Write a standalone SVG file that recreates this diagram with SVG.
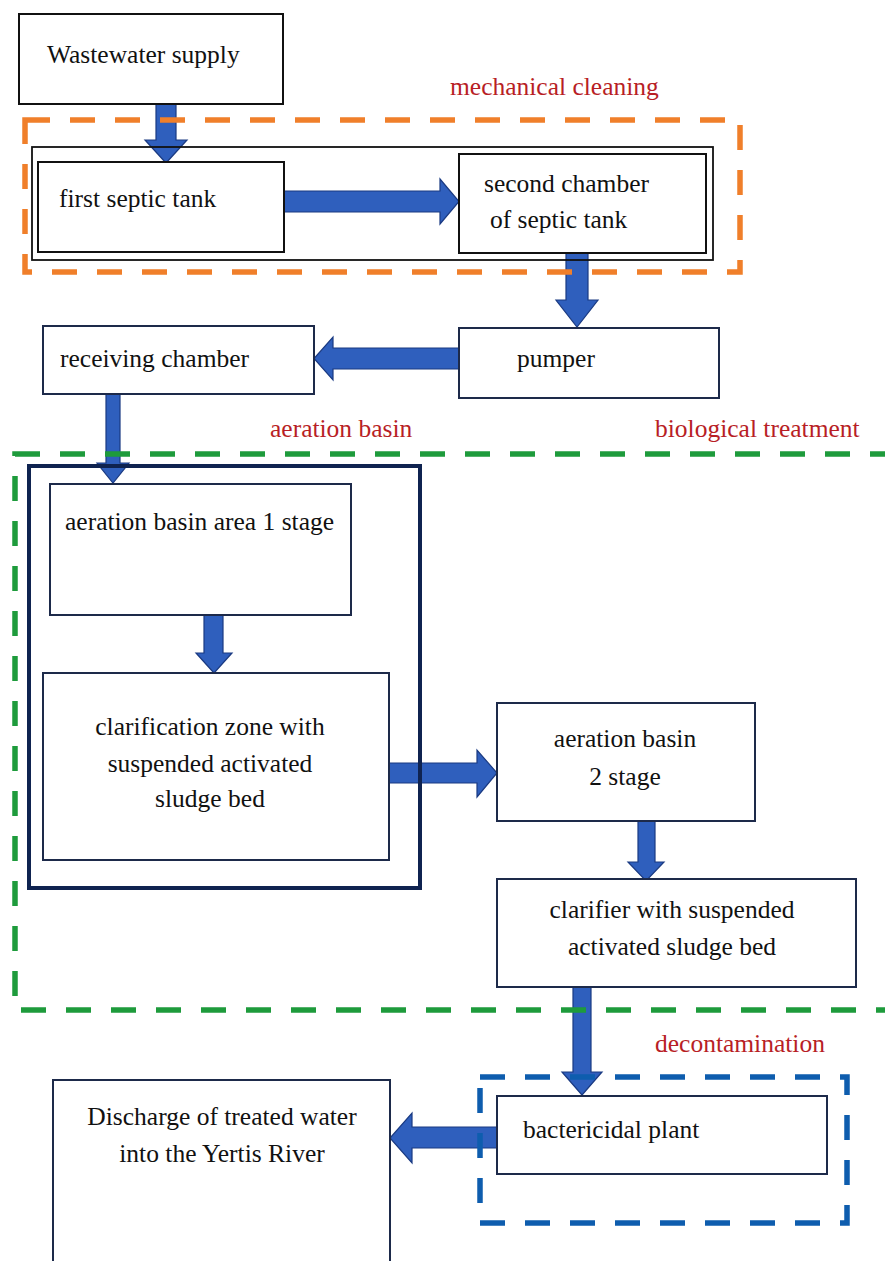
<svg xmlns="http://www.w3.org/2000/svg" width="885" height="1261" viewBox="0 0 885 1261">
<style>
.box{fill:#fff;stroke:#1d2a4a;stroke-width:2}
.bbox{fill:#fff;stroke:#111;stroke-width:2}
.t{font-family:"Liberation Serif","Times New Roman",serif;font-size:25.5px;fill:#111}
.c{text-anchor:middle}
.lbl{font-family:"Liberation Serif","Times New Roman",serif;font-size:25.5px;fill:#b81e25}
.arr{fill:#2f5fbd;stroke:#1a3a82;stroke-width:1.2;stroke-linejoin:miter}
.dash{fill:none;stroke-width:5.5;stroke-dasharray:25 20}
</style>
<rect width="885" height="1261" fill="#fff"/>

<g id="connectors">
<polygon class="arr" points="156,103 176,103 176,140 187,140 166,163 145,140 156,140"/>
<polygon class="arr" points="284,191 440,191 440,179 459,201.5 440,224 440,212 284,212"/>
<polygon class="arr" points="566,253 588,253 588,300 598,300 577,327 556,300 566,300"/>
<polygon class="arr" points="459,348 333,348 333,337 314,358.5 333,380 333,369 459,369"/>
<polygon class="arr" points="106,394 120,394 120,463 129,463 113,483 97,463 106,463"/>
<polygon class="arr" points="204,615 223,615 223,653 232,653 214,673 196,653 204,653"/>
<polygon class="arr" points="389,763 477,763 477,750 497,773 477,797 477,783 389,783"/>
<polygon class="arr" points="638,821 655,821 655,862 664,862 646,881 628,862 638,862"/>
<polygon class="arr" points="573,987 591,987 591,1072 602,1072 582,1095 562,1072 573,1072"/>
<polygon class="arr" points="497,1127 412,1127 412,1113 390,1138 412,1163 412,1148 497,1148"/>
</g>

<g id="frames">
<rect id="frame-mechanical" class="dash" x="25" y="120" width="715" height="152" stroke="#f07f2a"/>
<rect id="frame-septic" x="32" y="147" width="681" height="113" fill="none" stroke="#111" stroke-width="1.8"/>
<rect id="frame-biological" class="dash" x="15" y="454" width="885" height="556" stroke="#1e9b3c"/>
<rect id="frame-aeration" x="29" y="466" width="391" height="422" fill="none" stroke="#0f2350" stroke-width="4"/>
<rect id="frame-decontamination" class="dash" x="480" y="1077" width="367" height="146" stroke="#0e5dae"/>
</g>

<g id="labels">
<text class="lbl" x="450" y="95">mechanical cleaning</text>
<text class="lbl" x="270" y="437">aeration basin</text>
<text class="lbl" x="655" y="437">biological treatment</text>
<text class="lbl" x="655" y="1052">decontamination</text>
</g>

<g id="node-wastewater">
<rect class="bbox" x="19" y="14" width="264" height="90"/>
<text class="t" x="47" y="63">Wastewater supply</text>
</g>
<g id="node-first-septic">
<rect class="bbox" x="38" y="162" width="246" height="90"/>
<text class="t" x="59" y="207">first septic tank</text>
</g>
<g id="node-second-chamber">
<rect class="bbox" x="459" y="154" width="247" height="99"/>
<text class="t" x="484" y="192">second chamber</text>
<text class="t" x="490" y="228">of septic tank</text>
</g>
<g id="node-pumper">
<rect class="box" x="459" y="328" width="260" height="70"/>
<text class="t" x="517" y="367">pumper</text>
</g>
<g id="node-receiving">
<rect class="box" x="43" y="326" width="271" height="68"/>
<text class="t" x="60" y="367">receiving chamber</text>
</g>
<g id="node-aeration1">
<rect class="box" x="50" y="484" width="301" height="131"/>
<text class="t" x="65" y="530">aeration basin area 1 stage</text>
</g>
<g id="node-clarification">
<rect class="box" x="43" y="673" width="346" height="187"/>
<text class="t c" x="210" y="735">clarification zone with</text>
<text class="t c" x="210" y="772">suspended activated</text>
<text class="t c" x="210" y="807">sludge bed</text>
</g>
<g id="node-aeration2">
<rect class="box" x="497" y="703" width="258" height="118"/>
<text class="t c" x="625" y="747">aeration basin</text>
<text class="t c" x="625" y="785">2 stage</text>
</g>
<g id="node-clarifier">
<rect class="box" x="497" y="879" width="359" height="108"/>
<text class="t c" x="672" y="918">clarifier with suspended</text>
<text class="t c" x="672" y="955">activated sludge bed</text>
</g>
<g id="node-bactericidal">
<rect class="box" x="497" y="1096" width="330" height="78"/>
<text class="t" x="523" y="1138">bactericidal plant</text>
</g>
<g id="node-discharge">
<rect class="box" x="53" y="1080" width="337" height="200"/>
<text class="t c" x="222" y="1125">Discharge of treated water</text>
<text class="t c" x="222" y="1162">into the Yertis River</text>
</g>
</svg>
